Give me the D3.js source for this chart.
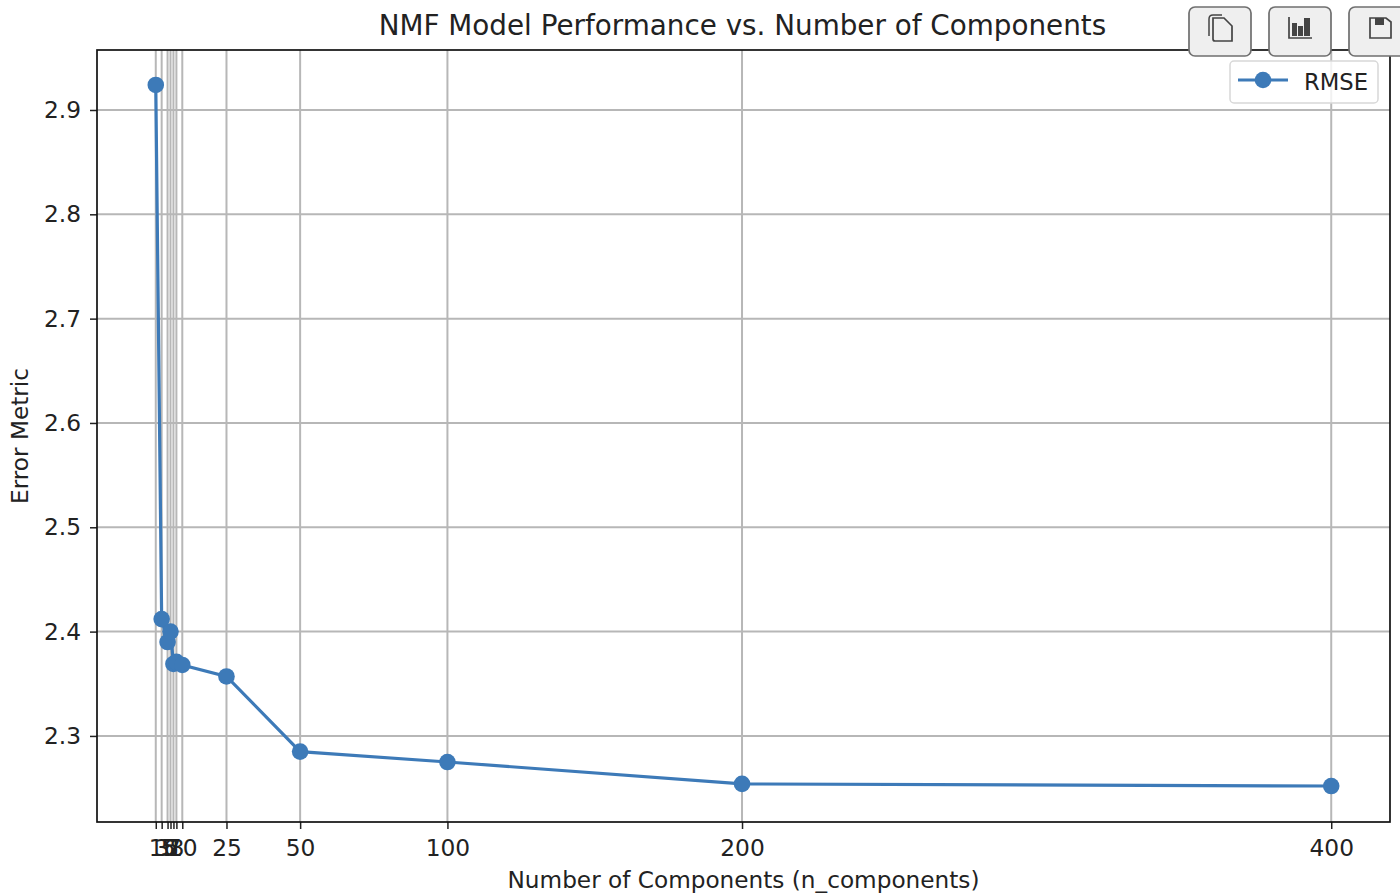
<!DOCTYPE html>
<html>
<head>
<meta charset="utf-8">
<script src="https://cdn.jsdelivr.net/npm/d3@7"></script>
<style>
  html, body { margin: 0; padding: 0; background: #fff; overflow: hidden; }
  text { font-family: "DejaVu Sans", sans-serif; fill: #222; }
</style>
</head>
<body>
<div id="container"></div>
<script>
// values
const components = [1, 3, 5, 6, 7, 8, 10, 25, 50, 100, 200, 400];
const rmse = [2.924, 2.412, 2.390, 2.400, 2.369, 2.371, 2.368, 2.357, 2.285, 2.275, 2.254, 2.252];
const xTicks = [1, 3, 5, 6, 7, 8, 10, 25, 50, 100, 200, 400];
const yTicks = [2.3, 2.4, 2.5, 2.6, 2.7, 2.8, 2.9];

const seriesName = "RMSE";
const titleText = "NMF Model Performance vs. Number of Components";
const xLabel = "Number of Components (n_components)";
const yLabel = "Error Metric";

const width = 1400, height = 896;
const margin = {top: 50, right: 10, bottom: 74, left: 97};
const lineColor = "#3d7ab8";
const gridColor = "#b7b7b7";

const svg = d3.select("#container").append("svg")
  .attr("width", width)
  .attr("height", height);

const xScale = d3.scaleLinear()
  .domain([-18.95, 419.95])
  .range([margin.left, width - margin.right]);

const yScale = d3.scaleLinear()
  .domain([2.2175, 2.9575])
  .range([height - margin.bottom, margin.top]);

// GRID
const grid = svg.append("g");
grid.selectAll(".vgrid")
  .data(xTicks)
  .enter().append("line")
    .attr("x1", d => xScale(d)).attr("x2", d => xScale(d))
    .attr("y1", margin.top).attr("y2", height - margin.bottom)
    .attr("stroke", gridColor).attr("stroke-width", 2);
grid.selectAll(".hgrid")
  .data(yTicks)
  .enter().append("line")
    .attr("x1", margin.left).attr("x2", width - margin.right)
    .attr("y1", d => yScale(d)).attr("y2", d => yScale(d))
    .attr("stroke", gridColor).attr("stroke-width", 2);

// AXES
const xAxis = d3.axisBottom(xScale)
  .tickValues(xTicks)
  .tickFormat(d3.format("d"))
  .tickSize(7)
  .tickPadding(10);
const yAxis = d3.axisLeft(yScale)
  .tickValues(yTicks)
  .tickFormat(d3.format(".1f"))
  .tickSize(7)
  .tickPadding(9);

const xAxisGroup = svg.append("g")
  .attr("transform", `translate(0,${height - margin.bottom})`)
  .call(xAxis);
const yAxisGroup = svg.append("g")
  .attr("transform", `translate(${margin.left},0)`)
  .call(yAxis);
[xAxisGroup, yAxisGroup].forEach(g => {
  g.selectAll("text").style("font-size", "23.3px").attr("fill", "#222");
  g.selectAll("line").attr("stroke", "#222").attr("stroke-width", 1.5);
  g.select(".domain").remove();
});

// LINE
const lineGen = d3.line()
  .x((d, i) => xScale(components[i]))
  .y(d => yScale(d));

svg.append("path")
  .datum(rmse)
  .attr("d", lineGen)
  .attr("fill", "none")
  .attr("stroke", lineColor)
  .attr("stroke-width", 3.2);

svg.selectAll(".dot")
  .data(rmse)
  .enter().append("circle")
    .attr("cx", (d, i) => xScale(components[i]))
    .attr("cy", d => yScale(d))
    .attr("r", 8.3)
    .attr("fill", lineColor);

// FRAME
svg.append("rect")
  .attr("x", margin.left).attr("y", margin.top)
  .attr("width", width - margin.left - margin.right)
  .attr("height", height - margin.top - margin.bottom)
  .attr("fill", "none")
  .attr("stroke", "#111").attr("stroke-width", 1.7);

// LABELS
svg.append("text")
  .attr("x", 742.5).attr("y", 35)
  .attr("text-anchor", "middle")
  .style("font-size", "27.8px")
  .text(titleText);
svg.append("text")
  .attr("x", 743.5).attr("y", 888)
  .attr("text-anchor", "middle")
  .style("font-size", "23.2px")
  .text(xLabel);
svg.append("text")
  .attr("transform", `translate(27.5,436) rotate(-90)`)
  .attr("text-anchor", "middle")
  .style("font-size", "23.2px")
  .text(yLabel);

// LEGEND
const legend = svg.append("g").attr("transform", "translate(1230,61)");
legend.append("rect")
  .attr("width", 148).attr("height", 42).attr("rx", 4)
  .attr("fill", "#fff").attr("fill-opacity", 0.8)
  .attr("stroke", "#d8d8d8").attr("stroke-width", 1.5);
legend.append("line")
  .attr("x1", 8).attr("x2", 58).attr("y1", 19).attr("y2", 19)
  .attr("stroke", lineColor).attr("stroke-width", 3.2);
legend.append("circle")
  .attr("cx", 33).attr("cy", 19).attr("r", 8.3).attr("fill", lineColor);
legend.append("text")
  .attr("x", 74).attr("y", 28.5)
  .style("font-size", "22.7px")
  .text(seriesName);

// TOOLBAR BUTTONS (notebook widget over the plot)
const buttons = svg.append("g");
[1189, 1269, 1349].forEach(x => {
  buttons.append("rect")
    .attr("x", x).attr("y", 7).attr("width", 62).attr("height", 49).attr("rx", 6)
    .attr("fill", "#efefef").attr("stroke", "#6f6f6f").attr("stroke-width", 1.7);
});
const iconColor = "#444";
// copy icon
buttons.append("path")
  .attr("d", "M1209 36 V19 Q1209 15 1213 15 H1222")
  .attr("fill", "none").attr("stroke", iconColor).attr("stroke-width", 1.5);
buttons.append("path")
  .attr("d", "M1213 39 V18 H1224 L1232 26 V41 H1215 Q1213 41 1213 39 Z")
  .attr("fill", "#efefef").attr("stroke", iconColor).attr("stroke-width", 1.7);
// bar chart icon
buttons.append("path")
  .attr("d", "M1289 17 V38 H1312")
  .attr("fill", "none").attr("stroke", iconColor).attr("stroke-width", 1.7);
[[1292, 23, 5, 13], [1298, 26, 5, 10], [1304, 18, 6, 18]].forEach(b => {
  buttons.append("rect")
    .attr("x", b[0]).attr("y", b[1]).attr("width", b[2]).attr("height", b[3])
    .attr("fill", iconColor);
});
// save icon
buttons.append("path")
  .attr("d", "M1370 18 H1386 L1391 22 V38 H1370 Z")
  .attr("fill", "#efefef").attr("stroke", iconColor).attr("stroke-width", 1.7);
buttons.append("rect")
  .attr("x", 1375).attr("y", 18).attr("width", 9).attr("height", 7)
  .attr("fill", iconColor);
</script>
</body>
</html>
